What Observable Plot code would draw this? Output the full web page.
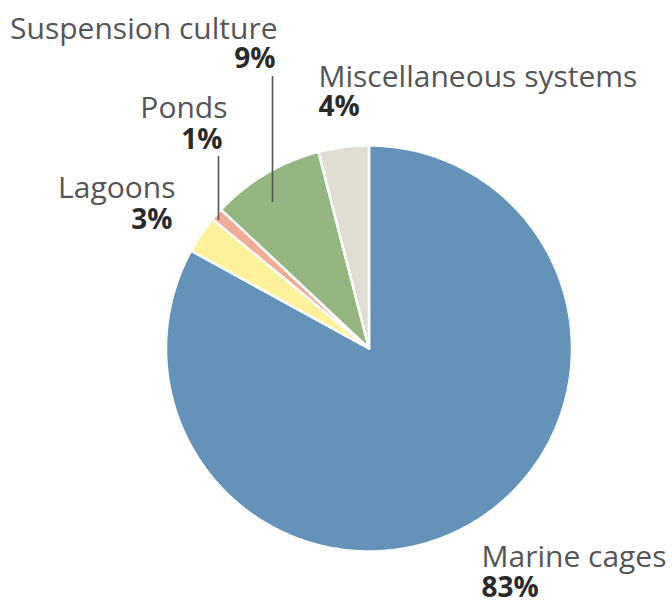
<!DOCTYPE html>
<html>
<head>
<meta charset="utf-8">
<script src="https://cdn.jsdelivr.net/npm/d3@7"></script>
<script src="https://cdn.jsdelivr.net/npm/@observablehq/plot@0.6"></script>
<style>
  body { margin: 0; background: #fff; }
  #chart svg { display: block; }
</style>
</head>
<body>
<div id="chart"></div>
<script>
// Data
const categories = ["Marine cages", "Lagoons", "Ponds", "Suspension culture", "Miscellaneous systems"];
const shares = [83, 3, 1, 9, 4];
const percentLabels = ["83%", "3%", "1%", "9%", "4%"];
const colors = ["#6592b8", "#fbf29b", "#f2ab96", "#95b680", "#e0ded3"];

// Layout (pixel positions of labels and leaders)
const labelLayout = [
  {name: [481, 566], pct: [481, 596], anchor: "start"},
  {name: [175, 197], pct: [172, 228], anchor: "end"},
  {name: [227, 117], pct: [222, 148], anchor: "end"},
  {name: [277, 38], pct: [275, 67], anchor: "end"},
  {name: [318, 86], pct: [318, 115], anchor: "start"}
];
const leaders = [
  {cat: "Suspension culture", x: 272, y1: 76, y2: 202},
  {cat: "Ponds", x: 218, y1: 156, y2: 220}
];

const W = 672, H = 600;
const cx = 368.5, cy = 348, R = 203;

// Build slice polygons in unit coordinates from the pie layout
const pie = d3.pie().sort(null).value(d => d)(shares);
const slicePts = [];
pie.forEach((p, i) => {
  const n = Math.max(4, Math.ceil((p.endAngle - p.startAngle) / 0.01));
  slicePts.push({cat: categories[i], x: 0, y: 0, k: 0});
  for (let j = 0; j <= n; j++) {
    const a = p.startAngle + (p.endAngle - p.startAngle) * j / n;
    slicePts.push({cat: categories[i], x: Math.sin(a), y: Math.cos(a), k: j + 1});
  }
  slicePts.push({cat: categories[i], x: 0, y: 0, k: n + 2});
});

const px = v => (v - cx) / R;       // pixel x -> unit
const py = v => (cy - v) / R;       // pixel y -> unit

const labelRows = categories.map((c, i) => ({
  cat: c, pct: percentLabels[i], anchor: labelLayout[i].anchor,
  nx: px(labelLayout[i].name[0]), ny: py(labelLayout[i].name[1]),
  qx: px(labelLayout[i].pct[0]), qy: py(labelLayout[i].pct[1])
}));
const leaderRows = leaders.map(l => ({cat: l.cat, x: px(l.x), y1: py(l.y1), y2: py(l.y2)}));

const fontFam = "'Open Sans', 'Noto Sans', sans-serif";

const chart = Plot.plot({
  width: W,
  height: H,
  margin: 0,
  x: {domain: [-1, 1], range: [cx - R, cx + R], axis: null},
  y: {domain: [-1, 1], range: [cy + R, cy - R], axis: null},
  color: {domain: categories, range: colors},
  style: {fontFamily: fontFam, background: "#fff"},
  marks: [
    Plot.line(slicePts, {
      x: "x", y: "y", z: "cat", fill: "cat", stroke: "#fff",
      strokeWidth: 2.5, strokeLinejoin: "round", curve: "linear"
    }),
    Plot.ruleX(leaderRows, {x: "x", y1: "y1", y2: "y2", stroke: "#555", strokeWidth: 1.6}),
    Plot.text(labelRows.filter(d => d.anchor === "start"), {
      x: "nx", y: "ny", text: "cat", textAnchor: "start", lineAnchor: "bottom",
      fontSize: 30, fill: "#555"
    }),
    Plot.text(labelRows.filter(d => d.anchor === "end"), {
      x: "nx", y: "ny", text: "cat", textAnchor: "end", lineAnchor: "bottom",
      fontSize: 30, fill: "#555"
    }),
    Plot.text(labelRows.filter(d => d.anchor === "start"), {
      x: "qx", y: "qy", text: "pct", textAnchor: "start", lineAnchor: "bottom",
      fontSize: 28, fontWeight: "bold", fill: "#2a2a2a"
    }),
    Plot.text(labelRows.filter(d => d.anchor === "end"), {
      x: "qx", y: "qy", text: "pct", textAnchor: "end", lineAnchor: "bottom",
      fontSize: 28, fontWeight: "bold", fill: "#2a2a2a"
    })
  ]
});
document.getElementById("chart").appendChild(chart);
</script>
</body>
</html>
